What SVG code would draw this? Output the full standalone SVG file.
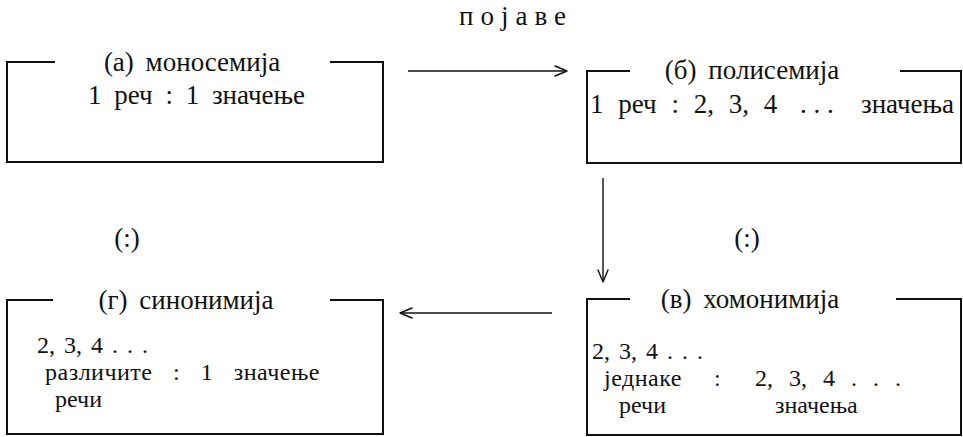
<svg xmlns="http://www.w3.org/2000/svg" width="963" height="437" viewBox="0 0 963 437">
  <style>
    text { font-family: "Liberation Serif", "Times New Roman", serif; font-size: 27px; fill: #111; }
    .mid { text-anchor: middle; }
    .title { word-spacing: 5px; }
    .body { font-size: 24px; }
    .frame { fill: none; stroke: #111; stroke-width: 2; }
    .edge { fill: none; stroke: #111; stroke-width: 1.4; }
    .head { fill: none; stroke: #111; stroke-width: 1.4; stroke-linecap: round; stroke-linejoin: round; }
  </style>
  <defs>
    <marker id="open" viewBox="0 0 14 12" refX="13" refY="6" markerWidth="14" markerHeight="12" markerUnits="userSpaceOnUse" orient="auto">
      <path class="head" d="M1,1 L13,6 L1,11"/>
    </marker>
  </defs>

  <rect width="963" height="437" fill="#fff"/>

  <!-- (а) моносемија -->
  <g id="monosemy">
    <path class="frame" d="M55,62 H7 V162 H383 V62 H330"/>
    <text class="mid title" x="192" y="71">(а) моносемија</text>
    <text x="88" y="104" word-spacing="6">1 реч : 1 значење</text>
  </g>

  <!-- (б) полисемија -->
  <g id="polysemy">
    <path class="frame" d="M630,71 H587 V163 H961 V71 H900"/>
    <text class="mid title" x="752" y="79">(б) полисемија</text>
    <text y="113"><tspan x="590" word-spacing="8">1 реч : 2, 3, 4</tspan><tspan x="800">. . .</tspan><tspan x="861">значења</tspan></text>
  </g>

  <!-- (в) хомонимија -->
  <g id="homonymy">
    <path class="frame" d="M630,299 H587 V435 H961 V299 H896"/>
    <text class="mid title" x="750" y="308">(в) хомонимија</text>
    <text class="body" x="592" y="359" word-spacing="3">2, 3, 4 . . .</text>
    <text class="body" x="604" y="386" letter-spacing="0.5">једнаке</text>
    <text class="body" x="714" y="386">:</text>
    <text class="body" x="755" y="386" word-spacing="10">2, 3, 4 . . .</text>
    <text class="body" x="619" y="413">речи</text>
    <text class="body" x="775" y="413">значења</text>
  </g>

  <!-- (г) синонимија -->
  <g id="synonymy">
    <path class="frame" d="M53,300 H7 V434 H383 V300 H330"/>
    <text class="mid title" x="186" y="309">(г) синонимија</text>
    <text class="body" x="37" y="353" word-spacing="3">2, 3, 4 . . .</text>
    <text class="body" x="45" y="380" word-spacing="14" letter-spacing="0.5">различите : 1 значење</text>
    <text class="body" x="55" y="407">речи</text>
  </g>

  <!-- connectors -->
  <g id="connectors">
    <line class="edge" x1="408" y1="71" x2="567" y2="71" marker-end="url(#open)"/>
    <text class="mid" x="516" y="25" font-size="24" letter-spacing="7">појаве</text>
    <line class="edge" x1="603" y1="178" x2="603" y2="282" marker-end="url(#open)"/>
    <line class="edge" x1="552" y1="313" x2="400" y2="313" marker-end="url(#open)"/>
    <text class="mid" x="127" y="247">(:)</text>
    <text class="mid" x="747" y="247">(:)</text>
  </g>
</svg>
